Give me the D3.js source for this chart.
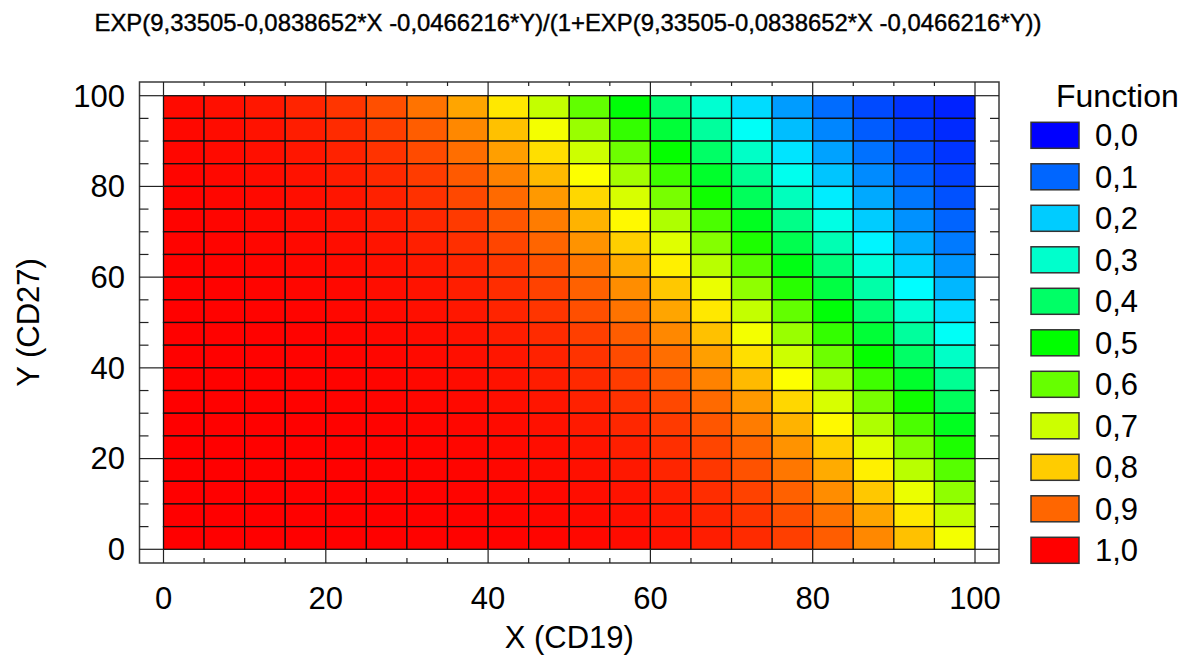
<!DOCTYPE html>
<html>
<head>
<meta charset="utf-8">
<script src="https://cdn.jsdelivr.net/npm/d3@7/dist/d3.min.js"></script>
<style>
  body { margin: 0; background: #fff; }
  text { fill: #000; }
</style>
</head>
<body>
<div id="chart"></div>
<script>
// function values, top row (Y=97.5) first
const titleText = "EXP(9,33505-0,0838652*X -0,0466216*Y)/(1+EXP(9,33505-0,0838652*X -0,0466216*Y))";
const xCenters = [2.5, 7.5, 12.5, 17.5, 22.5, 27.5, 32.5, 37.5, 42.5, 47.5, 52.5, 57.5, 62.5, 67.5, 72.5, 77.5, 82.5, 87.5, 92.5, 97.5];
const yCenters = [97.5, 92.5, 87.5, 82.5, 77.5, 72.5, 67.5, 62.5, 57.5, 52.5, 47.5, 42.5, 37.5, 32.5, 27.5, 22.5, 17.5, 12.5, 7.5, 2.5];
const zRows = [
  [0.990,0.985,0.977,0.965,0.948,0.923,0.887,0.838,0.773,0.691,0.595,0.492,0.389,0.295,0.216,0.153,0.106,0.073,0.049,0.033],
  [0.992,0.988,0.982,0.972,0.958,0.938,0.909,0.867,0.811,0.739,0.650,0.550,0.445,0.346,0.258,0.186,0.131,0.090,0.061,0.041],
  [0.994,0.990,0.985,0.978,0.967,0.950,0.926,0.892,0.844,0.781,0.701,0.607,0.504,0.400,0.305,0.224,0.159,0.111,0.076,0.051],
  [0.995,0.992,0.988,0.982,0.973,0.960,0.941,0.912,0.873,0.818,0.748,0.661,0.561,0.457,0.356,0.267,0.193,0.136,0.094,0.064],
  [0.996,0.994,0.991,0.986,0.979,0.968,0.952,0.929,0.896,0.850,0.789,0.711,0.618,0.515,0.411,0.315,0.232,0.166,0.116,0.079],
  [0.997,0.995,0.993,0.989,0.983,0.975,0.962,0.943,0.916,0.878,0.825,0.756,0.671,0.573,0.469,0.367,0.276,0.200,0.142,0.098],
  [0.997,0.996,0.994,0.991,0.987,0.980,0.970,0.954,0.932,0.901,0.856,0.797,0.720,0.629,0.527,0.423,0.325,0.240,0.172,0.120],
  [0.998,0.997,0.995,0.993,0.989,0.984,0.976,0.964,0.946,0.920,0.883,0.832,0.765,0.681,0.584,0.480,0.378,0.286,0.208,0.147],
  [0.998,0.998,0.996,0.994,0.992,0.987,0.981,0.971,0.956,0.935,0.905,0.862,0.804,0.730,0.640,0.539,0.434,0.335,0.249,0.179],
  [0.999,0.998,0.997,0.996,0.993,0.990,0.985,0.977,0.965,0.948,0.923,0.887,0.838,0.773,0.691,0.596,0.492,0.389,0.295,0.216],
  [0.999,0.998,0.998,0.997,0.995,0.992,0.988,0.982,0.972,0.958,0.938,0.909,0.867,0.811,0.739,0.650,0.550,0.446,0.346,0.258],
  [0.999,0.999,0.998,0.997,0.996,0.994,0.990,0.985,0.978,0.967,0.950,0.926,0.892,0.844,0.781,0.701,0.607,0.504,0.400,0.305],
  [0.999,0.999,0.999,0.998,0.997,0.995,0.992,0.988,0.982,0.973,0.960,0.941,0.912,0.873,0.818,0.748,0.661,0.561,0.457,0.356],
  [1.000,0.999,0.999,0.998,0.997,0.996,0.994,0.991,0.986,0.979,0.968,0.952,0.929,0.896,0.850,0.789,0.711,0.618,0.515,0.411],
  [1.000,0.999,0.999,0.999,0.998,0.997,0.995,0.993,0.989,0.983,0.975,0.962,0.943,0.916,0.878,0.825,0.756,0.671,0.573,0.469],
  [1.000,1.000,0.999,0.999,0.998,0.997,0.996,0.994,0.991,0.987,0.980,0.970,0.954,0.932,0.901,0.856,0.797,0.720,0.629,0.527],
  [1.000,1.000,0.999,0.999,0.999,0.998,0.997,0.995,0.993,0.989,0.984,0.976,0.964,0.946,0.920,0.883,0.832,0.765,0.681,0.584],
  [1.000,1.000,1.000,0.999,0.999,0.998,0.998,0.996,0.994,0.992,0.987,0.981,0.971,0.956,0.935,0.905,0.862,0.804,0.730,0.640],
  [1.000,1.000,1.000,0.999,0.999,0.999,0.998,0.997,0.996,0.993,0.990,0.985,0.977,0.965,0.948,0.923,0.887,0.838,0.773,0.691],
  [1.000,1.000,1.000,1.000,0.999,0.999,0.998,0.998,0.997,0.995,0.992,0.988,0.982,0.972,0.958,0.938,0.909,0.867,0.811,0.739]
];
const cellSize = 5;
const majorTicks = [0, 20, 40, 60, 80, 100];
const minorTicks = [5, 10, 15, 25, 30, 35, 45, 50, 55, 65, 70, 75, 85, 90, 95];
const legendLevels = [0.0, 0.1, 0.2, 0.3, 0.4, 0.5, 0.6, 0.7, 0.8, 0.9, 1.0];
const legendLabels = ["0,0", "0,1", "0,2", "0,3", "0,4", "0,5", "0,6", "0,7", "0,8", "0,9", "1,0"];

const svg = d3.select("#chart")
  .append("svg")
  .attr("width", 1192)
  .attr("height", 662);

const x = d3.scaleLinear().domain([0, 100]).range([163.5, 975]);
const y = d3.scaleLinear().domain([0, 100]).range([549.3, 95.7]);

// rainbow: 0 -> blue, 1 -> red
const hue = d3.scaleLinear().domain([0, 1]).range([240, 0]);
const color = v => d3.hsl(hue(v), 1, 0.5).formatHex();

const frame = { left: 139.5, top: 82, right: 999, bottom: 563 };
const font = "'Liberation Sans', Arial, sans-serif";

// title
svg.append("text")
  .attr("x", 568)
  .attr("y", 31)
  .attr("text-anchor", "middle")
  .attr("textLength", 947)
  .attr("lengthAdjust", "spacingAndGlyphs")
  .style("font-family", "'Liberation Sans Narrow', 'Liberation Sans', Arial, sans-serif")
  .style("font-size", "24px")
  .style("stroke", "#000")
  .style("stroke-width", 0.4)
  .text(titleText);

// frame
svg.append("rect")
  .attr("x", frame.left)
  .attr("y", frame.top)
  .attr("width", frame.right - frame.left)
  .attr("height", frame.bottom - frame.top)
  .attr("fill", "none")
  .attr("stroke", "#3a3a3a")
  .attr("stroke-width", 1.5);

// cells
const cells = [];
zRows.forEach((row, r) => row.forEach((v, c) => cells.push({ x: xCenters[c], y: yCenters[r], v: v })));

svg.append("g")
  .selectAll("rect")
  .data(cells)
  .enter()
  .append("rect")
  .attr("x", d => x(d.x - cellSize / 2))
  .attr("y", d => y(d.y + cellSize / 2))
  .attr("width", x(cellSize) - x(0))
  .attr("height", y(0) - y(cellSize))
  .attr("fill", d => color(d.v))
  .attr("stroke", "#111")
  .attr("stroke-width", 1.3);

// ticks from the frame inwards
const tickG = svg.append("g").attr("stroke", "#222").attr("stroke-width", 1.2);

// major: run from frame to plot area
majorTicks.forEach(t => {
  tickG.append("line").attr("x1", x(t)).attr("x2", x(t)).attr("y1", frame.bottom).attr("y2", y(0));
  tickG.append("line").attr("x1", x(t)).attr("x2", x(t)).attr("y1", frame.top).attr("y2", y(100));
  tickG.append("line").attr("y1", y(t)).attr("y2", y(t)).attr("x1", frame.left).attr("x2", x(0));
  tickG.append("line").attr("y1", y(t)).attr("y2", y(t)).attr("x1", frame.right).attr("x2", x(100));
});

minorTicks.forEach(t => {
  tickG.append("line").attr("x1", x(t)).attr("x2", x(t)).attr("y1", frame.bottom).attr("y2", frame.bottom - 5);
  tickG.append("line").attr("x1", x(t)).attr("x2", x(t)).attr("y1", frame.top).attr("y2", frame.top + 4);
  tickG.append("line").attr("y1", y(t)).attr("y2", y(t)).attr("x1", frame.left).attr("x2", frame.left + 9);
  tickG.append("line").attr("y1", y(t)).attr("y2", y(t)).attr("x1", frame.right).attr("x2", frame.right - 9);
});

// tick labels
svg.append("g")
  .selectAll("text")
  .data(majorTicks)
  .enter()
  .append("text")
  .attr("x", d => x(d))
  .attr("y", 609)
  .attr("text-anchor", "middle")
  .style("font-family", font)
  .style("font-size", "31px")
  .text(d => d);

svg.append("g")
  .selectAll("text")
  .data(majorTicks)
  .enter()
  .append("text")
  .attr("x", 125)
  .attr("y", d => y(d))
  .attr("dy", "0.35em")
  .attr("text-anchor", "end")
  .style("font-family", font)
  .style("font-size", "31px")
  .text(d => d);

// axis titles
svg.append("text")
  .attr("x", x(50))
  .attr("y", 648)
  .attr("text-anchor", "middle")
  .style("font-family", font)
  .style("font-size", "31px")
  .text("X (CD19)");

svg.append("text")
  .attr("transform", "translate(39," + ((y(0) + y(100)) / 2) + ") rotate(-90)")
  .attr("text-anchor", "middle")
  .style("font-family", font)
  .style("font-size", "31px")
  .text("Y (CD27)");

// legend
const legend = svg.append("g");

legend.append("text")
  .attr("x", 1056)
  .attr("y", 107)
  .style("font-family", font)
  .style("font-size", "32px")
  .text("Function");

const item = legend.selectAll(".item")
  .data(legendLevels)
  .enter()
  .append("g")
  .attr("class", "item")
  .attr("transform", (d, i) => "translate(1031," + (122.3 + i * 41.5) + ")");

item.append("rect")
  .attr("width", 48)
  .attr("height", 26)
  .attr("fill", d => color(d))
  .attr("stroke", "#333")
  .attr("stroke-width", 1.5);

item.append("text")
  .attr("x", 64)
  .attr("y", 13)
  .attr("dy", "0.35em")
  .style("font-family", font)
  .style("font-size", "31px")
  .text((d, i) => legendLabels[i]);
</script>
</body>
</html>
